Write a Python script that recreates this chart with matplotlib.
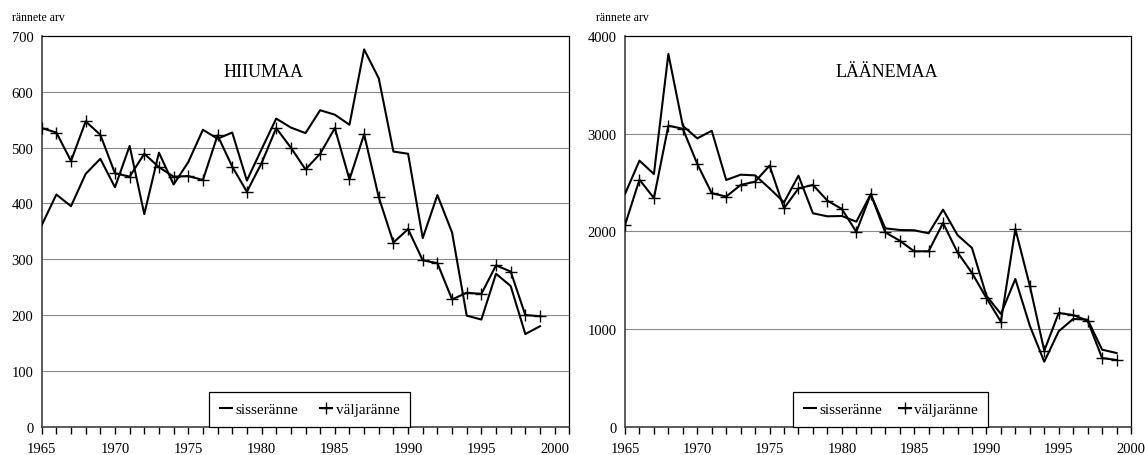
import matplotlib
matplotlib.use('Agg')
import matplotlib.pyplot as plt

plt.rcParams['font.family'] = ['Liberation Serif', 'DejaVu Serif']

years = list(range(1965, 2000))

# Hiiumaa
hiiu_sisse = [361, 416, 395, 453, 480, 429, 503, 381, 491, 434, 474, 532, 516, 527, 441,
              497, 552, 536, 526, 567, 559, 541, 676, 624, 493, 489, 338, 415, 348, 199,
              192, 274, 252, 166, 180]
hiiu_valja = [535, 527, 476, 547, 523, 454, 448, 489, 465, 448, 449, 442, 522, 466, 421,
              472, 535, 500, 461, 489, 535, 443, 524, 411, 330, 354, 298, 293, 228, 240,
              238, 289, 278, 200, 198]

# Läänemaa
laane_sisse = [2382, 2724, 2587, 3816, 3080, 2952, 3030, 2526, 2580, 2573, 2440, 2297, 2570,
               2185, 2154, 2157, 2099, 2380, 2031, 2014, 2011, 1980, 2222, 1962, 1830, 1341,
               1154, 1512, 1034, 666, 977, 1103, 1096, 789, 754]
laane_valja = [2065, 2529, 2341, 3082, 3050, 2690, 2390, 2356, 2475, 2509, 2673, 2236, 2440,
               2475, 2314, 2229, 1995, 2380, 1990, 1905, 1796, 1796, 2086, 1785, 1574, 1318,
               1075, 2024, 1444, 778, 1164, 1143, 1085, 703, 683]

xlabels = [1965, 1970, 1975, 1980, 1985, 1990, 1995, 2000]

fig = plt.figure(figsize=(11.45, 4.56), dpi=100)


def panel(rect, sisse, valja, title, title_x, ymax, ystep, xmax, leg_x, leg_w, label_x):
    ax = fig.add_axes(rect)
    for y in range(ystep, ymax, ystep):
        ax.axhline(y, color='#8a8a8a', lw=0.8, zorder=0)
    ax.plot(years, sisse, color='black', lw=1.5, label='sisseränne', zorder=3)
    ax.plot(years, valja, color='black', lw=1.5, marker='+', ms=9, mew=1.0,
            label='väljaränne', zorder=3)
    ax.set_xlim(1965, xmax)
    ax.set_ylim(0, ymax)
    ax.set_xticks(range(1965, xmax + 1), minor=True)
    ax.set_xticks(xlabels)
    ax.set_xticklabels([str(x) for x in xlabels])
    ax.set_yticks(range(0, ymax + 1, ystep))
    ax.tick_params(axis='x', which='both', direction='out', length=5, width=1,
                   labelsize=10.5, pad=6)
    ax.tick_params(axis='y', length=0, labelsize=10.5, pad=6)
    for s in ['top', 'right']:
        ax.spines[s].set_color('black')
        ax.spines[s].set_linewidth(0.9)
    for s in ['left', 'bottom']:
        ax.spines[s].set_color('#404040')
        ax.spines[s].set_linewidth(1.2)
    ax.text(title_x, 0.91, title, transform=ax.transAxes, ha='center', va='center',
            fontsize=13)
    leg = ax.legend(loc='lower left', bbox_to_anchor=(leg_x, 0, leg_w, 0.0985),
                    mode='expand', ncol=2, fancybox=False, framealpha=1,
                    edgecolor='black', fontsize=11, handlelength=0.8,
                    handletextpad=0.2, borderaxespad=0, borderpad=0.7,
                    columnspacing=1.0)
    leg.get_frame().set_linewidth(0.9)
    leg.set_zorder(5)
    fig.text(label_x, 1 - 18 / 456, 'rännete arv', fontsize=8.5, va='center')
    return ax


panel([41.7 / 1145, 28.3 / 456, 527.6 / 1145, 390.7 / 456], hiiu_sisse, hiiu_valja,
      'HIIUMAA', 0.42, 700, 100, 2001, 0.318, 0.380, 12 / 1145)
panel([625 / 1145, 28.3 / 456, 506 / 1145, 390.7 / 456], laane_sisse, laane_valja,
      'LÄÄNEMAA', 0.518, 4000, 1000, 2000, 0.333, 0.385, 596 / 1145)

fig.savefig('out.png', dpi=100)
